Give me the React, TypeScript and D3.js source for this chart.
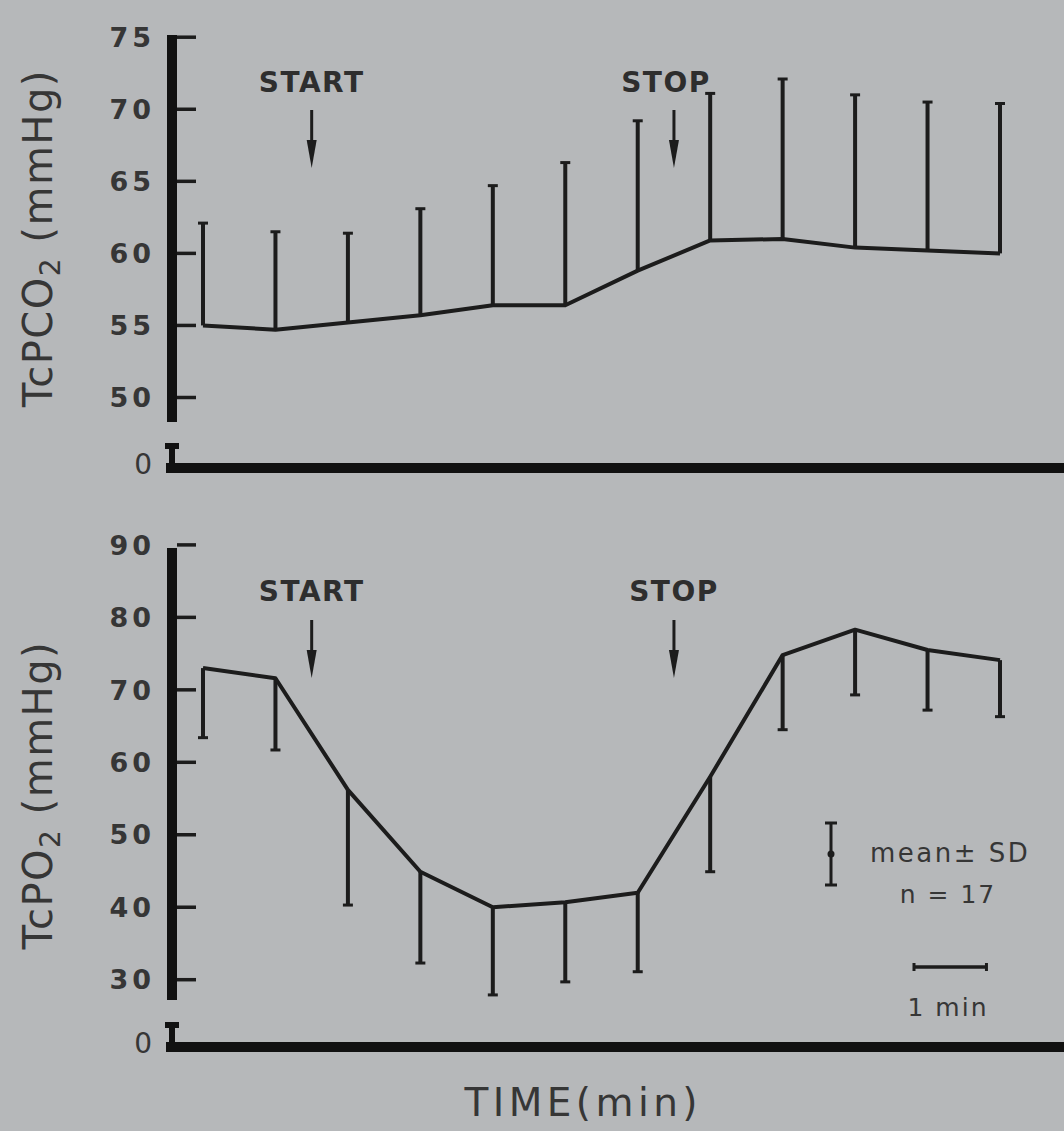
import React from "react";
import * as d3 from "d3";

// ---- data ----
const minutes = [0, 1, 2, 3, 4, 5, 6, 7, 8, 9, 10, 11];
const pco2Mean = [55.0, 54.7, 55.2, 55.7, 56.4, 56.4, 58.8, 60.9, 61.0, 60.4, 60.2, 60.0];
const pco2SD = [7.1, 6.8, 6.2, 7.4, 8.3, 9.9, 10.4, 10.2, 11.1, 10.6, 10.3, 10.4];
const po2Mean = [73.0, 71.6, 56.2, 44.9, 40.0, 40.7, 42.0, 58.0, 74.8, 78.3, 75.5, 74.1];
const po2SD = [9.6, 9.9, 15.9, 12.6, 12.1, 11.0, 10.9, 13.1, 10.3, 9.0, 8.3, 7.8];
const pco2Ticks = [50, 55, 60, 65, 70, 75];
const po2Ticks = [30, 40, 50, 60, 70, 80, 90];
const startMinute = 1.5;
const stopMinute = 6.5;
const nSubjects = 17;

const BG = "#b6b8ba";
const INK = "#1c1c1c";
const TXT = "#363636";
const FONT = "'DejaVu Sans', sans-serif";

const x = d3.scaleLinear().domain([0, 11]).range([203, 1000]);
const yTop = d3.scaleLinear().domain([50, 75]).range([397.5, 37.2]);
const yBot = d3.scaleLinear().domain([30, 90]).range([979.7, 544.9]);

type PanelProps = {
  y: d3.ScaleLinear<number, number>;
  mean: number[];
  sd: number[];
  dir: 1 | -1;
  ticks: number[];
  axisTop: number;
  axisBottom: number;
  baseY: number;
  labelMain: string;
  labelCenter: number;
  stopTextX: number;
  textY: number;
  arrowTop: number;
};

function Arrow({ cx, top }: { cx: number; top: number }) {
  return (
    <g>
      <line x1={cx} x2={cx} y1={top} y2={top + 32} stroke={INK} strokeWidth={3} />
      <path d={`M${cx - 5},${top + 30} L${cx + 5},${top + 30} L${cx},${top + 58} Z`} fill={INK} />
    </g>
  );
}

function Panel(p: PanelProps) {
  const line = d3
    .line<number>()
    .x((_, i) => x(minutes[i]))
    .y((d) => p.y(d));
  const axisX = 172;
  const b = p.baseY;
  return (
    <g>
      {/* y axis */}
      <line x1={axisX} x2={axisX} y1={p.axisTop} y2={p.axisBottom} stroke="#111" strokeWidth={10} />
      {p.ticks.map((t) => (
        <g key={t}>
          <line x1={177} x2={196} y1={p.y(t)} y2={p.y(t)} stroke={INK} strokeWidth={3.5} />
          <text
            x={155}
            y={p.y(t)}
            dy="0.36em"
            textAnchor="end"
            fontFamily={FONT}
            fontWeight="bold"
            fontSize={27}
            letterSpacing={4}
            fill={TXT}
          >
            {t}
          </text>
        </g>
      ))}
      {/* axis break marker and zero */}
      <path
        d={`M${axisX - 7},${b - 25} L${axisX + 7},${b - 25} L${axisX + 7},${b - 19} L${axisX + 3},${b - 19} L${axisX + 3},${b} L${axisX - 3},${b} L${axisX - 3},${b - 19} L${axisX - 7},${b - 19} Z`}
        fill="#111"
      />
      <text x={152} y={b + 6} textAnchor="end" fontFamily={FONT} fontSize={28} fill={TXT}>
        0
      </text>
      {/* x axis baseline */}
      <line x1={166} x2={1064} y1={b} y2={b} stroke="#111" strokeWidth={10} />
      {/* y label */}
      <text
        transform={`translate(52,${p.labelCenter}) rotate(-90)`}
        textAnchor="middle"
        fontFamily={FONT}
        fontSize={40}
        letterSpacing={1.5}
        fill={TXT}
      >
        {p.labelMain}
        <tspan fontSize={28} dy={8}>
          2
        </tspan>
        <tspan dy={-8}> (mmHg)</tspan>
      </text>
      {/* error bars */}
      {p.mean.map((m, i) => {
        const cx = x(minutes[i]);
        const end = p.y(m + p.dir * p.sd[i]);
        return (
          <g key={i}>
            <line x1={cx} x2={cx} y1={p.y(m)} y2={end} stroke={INK} strokeWidth={4} />
            <line x1={cx - 5} x2={cx + 5} y1={end} y2={end} stroke={INK} strokeWidth={3} />
          </g>
        );
      })}
      {/* mean line */}
      <path d={line(p.mean) || ""} fill="none" stroke={INK} strokeWidth={4} strokeLinejoin="round" />
      {/* START / STOP */}
      <text
        x={x(startMinute)}
        y={p.textY}
        textAnchor="middle"
        fontFamily={FONT}
        fontWeight="bold"
        fontSize={28}
        letterSpacing={1.5}
        fill="#2e2e2e"
      >
        START
      </text>
      <Arrow cx={x(startMinute)} top={p.arrowTop} />
      <text
        x={p.stopTextX}
        y={p.textY}
        textAnchor="middle"
        fontFamily={FONT}
        fontWeight="bold"
        fontSize={28}
        letterSpacing={1.5}
        fill="#2e2e2e"
      >
        STOP
      </text>
      <Arrow cx={x(stopMinute)} top={p.arrowTop} />
    </g>
  );
}

export default function App() {
  const legX = 831;
  const scaleStart = 914;
  const oneMin = x(1) - x(0);
  return (
    <svg
      width={1064}
      height={1131}
      style={{ position: "absolute", left: 0, top: 0, display: "block" }}
    >
      <rect x={0} y={0} width={1064} height={1131} fill={BG} />
      <Panel
        y={yTop}
        mean={pco2Mean}
        sd={pco2SD}
        dir={1}
        ticks={pco2Ticks}
        axisTop={35}
        axisBottom={422}
        baseY={468}
        labelMain="TcPCO"
        labelCenter={238}
        stopTextX={666}
        textY={92}
        arrowTop={110}
      />
      <Panel
        y={yBot}
        mean={po2Mean}
        sd={po2SD}
        dir={-1}
        ticks={po2Ticks}
        axisTop={548}
        axisBottom={1000}
        baseY={1047}
        labelMain="TcPO"
        labelCenter={795}
        stopTextX={674}
        textY={601}
        arrowTop={620}
      />
      {/* legend */}
      <line x1={legX} x2={legX} y1={823} y2={885} stroke={INK} strokeWidth={3} />
      <line x1={legX - 6} x2={legX + 6} y1={823} y2={823} stroke={INK} strokeWidth={3} />
      <line x1={legX - 6} x2={legX + 6} y1={885} y2={885} stroke={INK} strokeWidth={3} />
      <circle cx={legX} cy={854} r={3.5} fill={INK} />
      <text x={870} y={862} fontFamily={FONT} fontSize={26} letterSpacing={2.5} fill={TXT}>
        mean± SD
      </text>
      <text x={948} y={903} textAnchor="middle" fontFamily={FONT} fontSize={25} letterSpacing={2} fill={TXT}>
        {`n = ${nSubjects}`}
      </text>
      <line x1={scaleStart} x2={scaleStart + oneMin} y1={967} y2={967} stroke={INK} strokeWidth={3.5} />
      <line x1={scaleStart} x2={scaleStart} y1={963} y2={971} stroke={INK} strokeWidth={3} />
      <line x1={scaleStart + oneMin} x2={scaleStart + oneMin} y1={963} y2={971} stroke={INK} strokeWidth={3} />
      <text x={948} y={1016} textAnchor="middle" fontFamily={FONT} fontSize={25} letterSpacing={2} fill={TXT}>
        1 min
      </text>
      {/* x label */}
      <text
        x={581}
        y={1116}
        textAnchor="middle"
        fontFamily={FONT}
        fontSize={39}
        textLength={233}
        lengthAdjust="spacing"
        fill={TXT}
      >
        TIME(min)
      </text>
    </svg>
  );
}
